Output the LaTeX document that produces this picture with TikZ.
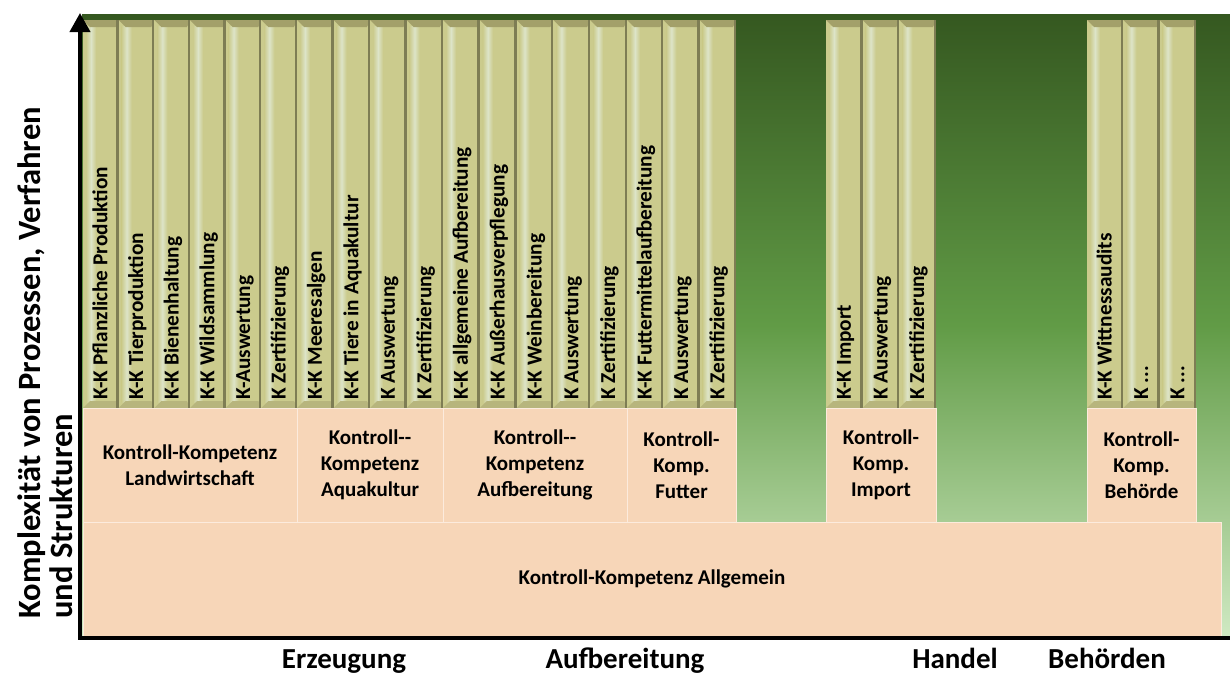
\documentclass[tikz,border=0pt]{standalone}
\usepackage{fontspec}
\setmainfont{Carlito}
\usetikzlibrary{arrows.meta}

\definecolor{bgtop}{HTML}{355820}
\definecolor{bgmid}{HTML}{619B46}
\definecolor{bgbot}{HTML}{CFE9C2}
\definecolor{saeule}{HTML}{CBCB8D}
\definecolor{saeulehell}{HTML}{DDE4C8}
\definecolor{saeuledunkel}{HTML}{7E7D54}
\definecolor{saeulekopf}{HTML}{A3A06A}
\definecolor{saeulefuss}{HTML}{B7B57D}
\definecolor{pfirsich}{HTML}{F7D6B8}
\definecolor{pfirsichrand}{HTML}{FCEBDD}

\newcommand{\drei}{...}

\newcommand{\saeule}[4]{%
  \fill[saeule] (#1,20) rectangle (#1+#2,408);
  \shade[left color=saeule, right color=saeule, middle color=saeulehell] (#1+3,26) rectangle (#1+13,402);
  \fill[saeulekopf] (#1,20) -- (#1+#2,20) -- (#1+#2-3,27) -- (#1+7,27) -- cycle;
  \fill[saeulefuss] (#1,408) -- (#1+#2,408) -- (#1+#2-3,401) -- (#1+7,401) -- cycle;
  \fill[saeuledunkel] (#1+#2-2.5,20) rectangle (#1+#2,408);
  \node[spalte] (#3) at (#1+#2/2,400) {#4};
}

\newcommand{\gruppe}[4]{%
  \foreach \t [count=\i] in {#4} {
    \pgfmathsetmacro\xl{#2+(\i-1)*#3}
    \saeule{\xl}{#3}{#1\i}{\t}
  }
}

\begin{document}
\begin{tikzpicture}[x=1pt,y=-1pt,
  spalte/.style={rotate=90,anchor=west,inner sep=0pt,text height=13pt,text depth=0pt,font=\fontsize{21.3}{24}\selectfont\bfseries},
  kasten/.style={fill=pfirsich,draw=pfirsichrand,line width=1pt,minimum height=114pt,inner sep=0pt,align=center,font=\fontsize{21}{26}\selectfont\bfseries},
  achse/.style={anchor=base,font=\fontsize{29}{34}\selectfont\bfseries}]

\path[fill=white,use as bounding box] (0,0) rectangle (1230,673);
\shade[top color=bgtop,bottom color=bgbot,middle color=bgmid] (82,14) rectangle (1230,636);

\gruppe{lw}{83}{35.667}{K-K Pflanzliche Produktion,K-K Tierproduktion,K-K Bienenhaltung,K-K Wildsammlung,K-Auswertung,K Zertifizierung}
\gruppe{aq}{297}{36.5}{K-K Meeresalgen,K-K Tiere in Aquakultur,K Auswertung,K Zertifizierung}
\gruppe{af}{443}{36.8}{K-K allgemeine Aufbereitung,K-K Außerhausverpflegung,K-K Weinbereitung,K Auswertung,K Zertifizierung}
\gruppe{fu}{627}{36.333}{K-K Futtermittelaufbereitung,K Auswertung,K Zertifizierung}
\gruppe{im}{826}{36.667}{K-K Import,K Auswertung,K Zertifizierung}
\gruppe{be}{1087}{36.333}{K-K Wittnessaudits,K \drei,K \drei}

\node[kasten,minimum width=214pt] (landw) at (190,465) {Kontroll-Kompetenz\\Landwirtschaft};
\node[kasten,minimum width=146pt] (aqua) at (370,465) {Kontroll-{}-\\Kompetenz\\Aquakultur};
\node[kasten,minimum width=184pt] (aufb) at (535,465) {Kontroll-{}-\\Kompetenz\\Aufbereitung};
\node[kasten,minimum width=109pt] (futter) at (681.5,465) {Kontroll-\\Komp.\\Futter};
\node[kasten,minimum width=110pt] (import) at (881,465) {Kontroll-\\Komp.\\Import};
\node[kasten,minimum width=109pt] (behoerde) at (1141.5,465) {Kontroll-\\Komp.\\Behörde};
\node[kasten,minimum width=1138pt] (allg) at (652,579) {Kontroll-Kompetenz Allgemein};

\coordinate (o) at (80,638);
\coordinate (ytop) at (80,13);
\coordinate (xend) at (1230,638);
\draw[line width=4pt] (o) ++(-2,0) -- (xend);
\draw[line width=4pt,-{Triangle[width=20pt,length=19pt]}] (o) -- (ytop);

\node[rotate=90,anchor=west,align=left,font=\fontsize{32.5}{32}\selectfont\bfseries] (ylabel) at (45,622) {Komplexität von Prozessen, Verfahren\\und Strukturen};

\node[achse] (erz) at (344,668) {Erzeugung};
\node[achse] (aufbx) at (625,668) {Aufbereitung};
\node[achse] (handel) at (955,668) {Handel};
\node[achse] (beh) at (1107,668) {Behörden};
\end{tikzpicture}
\end{document}
